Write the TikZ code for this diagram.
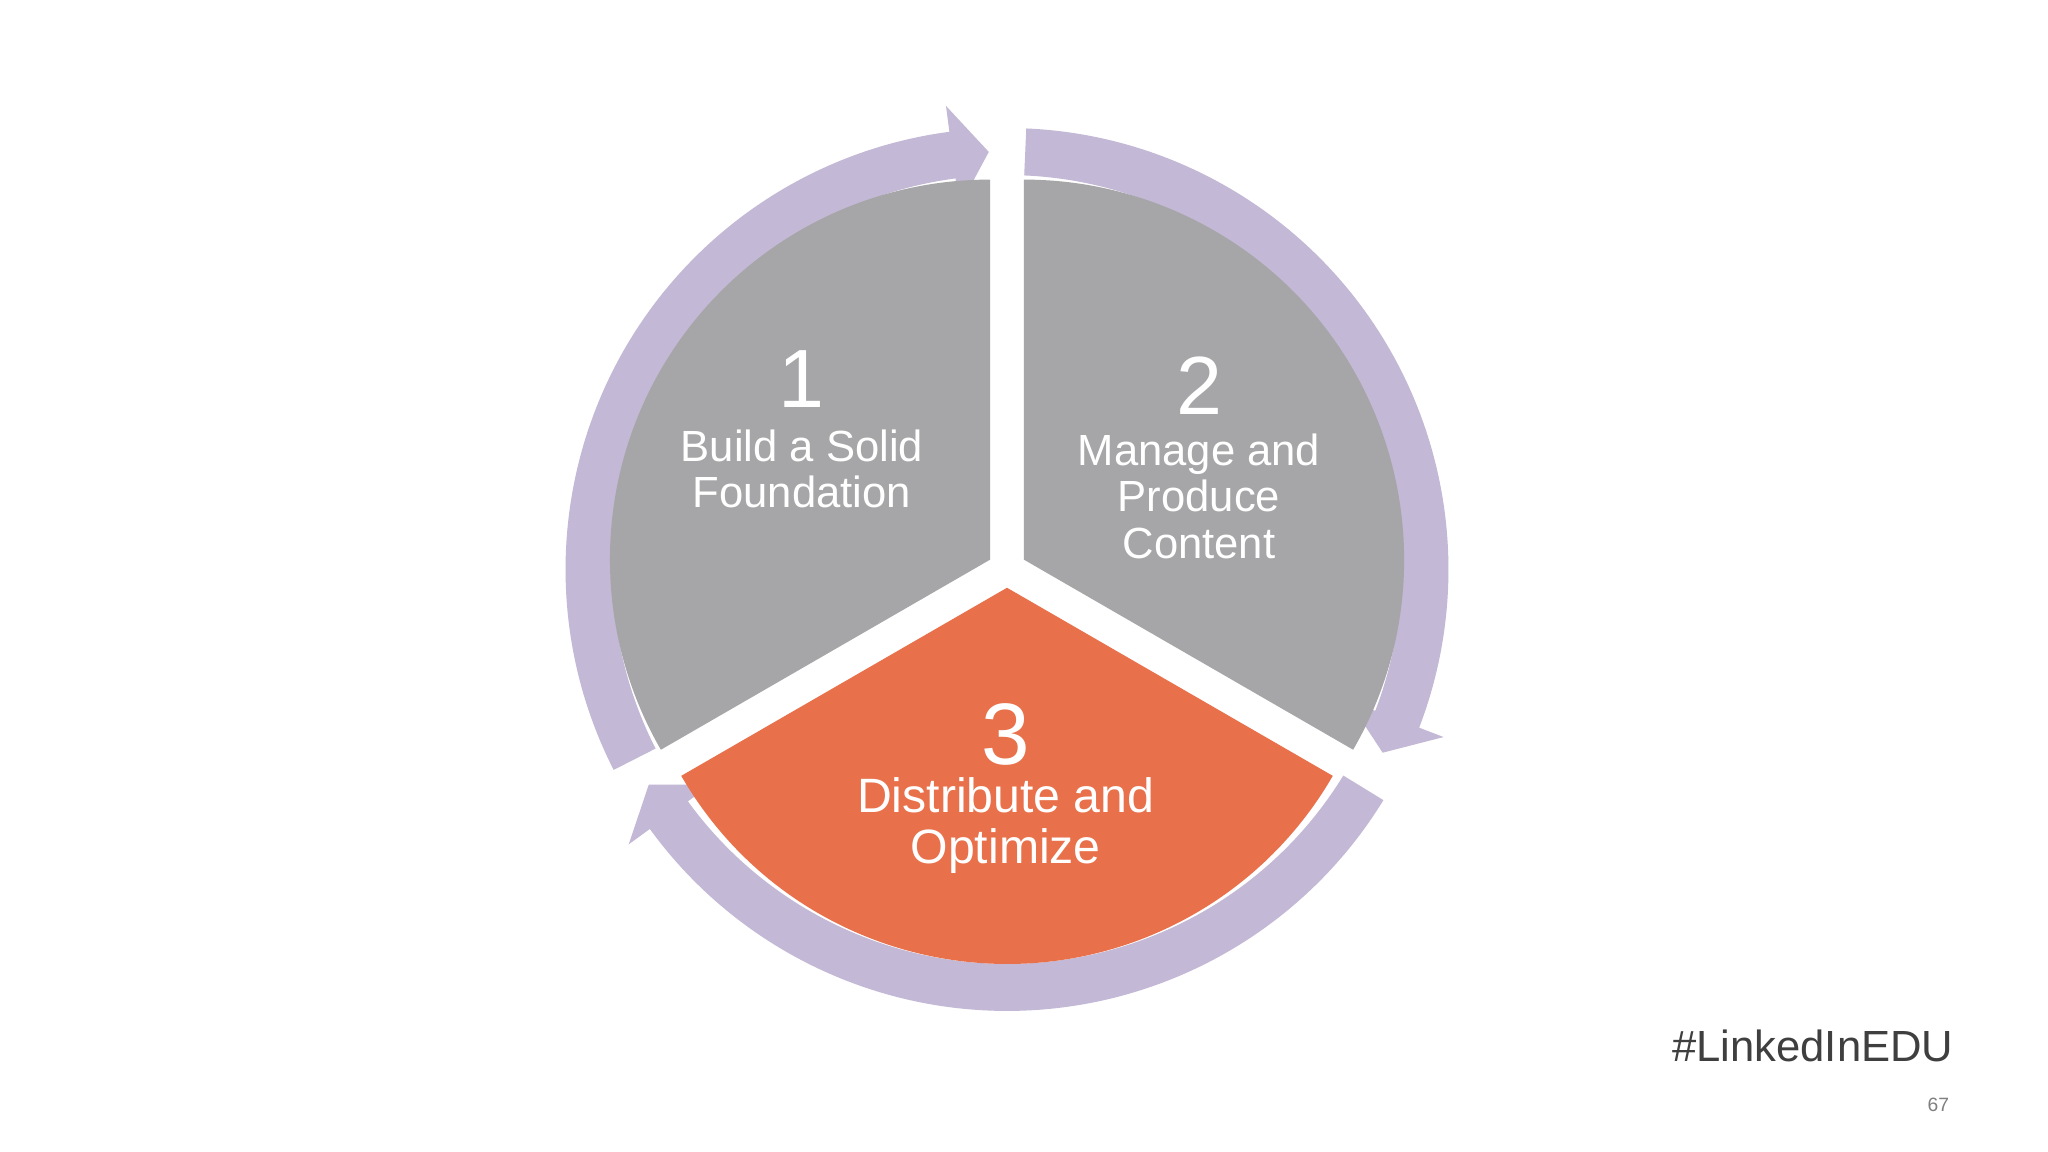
\documentclass[tikz,border=0pt]{standalone}
\usepackage{fontspec}
\setmainfont{Liberation Sans}
\definecolor{ringc}{HTML}{C3B8D5}
\definecolor{secg}{HTML}{A6A5A7}
\definecolor{seco}{HTML}{E8704A}
\definecolor{tagc}{HTML}{3F3F3F}
\begin{document}
\begin{tikzpicture}[x=0.1mm,y=0.1mm,
  ringarrow/.style={fill=ringc},
  lbl/.style={text=white,align=center,font=\fontsize{9.5}{10.2}\selectfont},
  lblb/.style={text=white,align=center,font=\fontsize{10.5}{11}\selectfont},
  num/.style={text=white,font=\fontsize{18}{18}\selectfont},
  numb/.style={text=white,font=\fontsize{19}{19}\selectfont}]
\fill[white] (-771,-446) rectangle (797,436);
\useasboundingbox (-771,-446) rectangle (797,436);
% ring arrows (clockwise)
\foreach \s/\e in {207/92.5, 87.5/-26, 328.5/211}{
  \pgfmathsetmacro{\b}{\e+5}
  \fill[ringarrow] (\s:338) arc[start angle=\s,end angle=\b,radius=338]
    -- (\b:358) -- (\e:320) -- (\b:280) -- (\b:302)
    arc[start angle=\b,end angle=\s,radius=302] -- cycle;
}
% sectors
\begin{scope}[shift={(150:15)}]
  \fill[secg] (0,0) -- (90:291) arc[start angle=90,end angle=210,radius=291] -- cycle;
\end{scope}
\begin{scope}[shift={(30:15)}]
  \fill[secg] (0,0) -- (-30:291) arc[start angle=-30,end angle=90,radius=291] -- cycle;
\end{scope}
\begin{scope}[shift={(270:14)}]
  \fill[seco] (0,0) -- (210:288) arc[start angle=210,end angle=330,radius=288] -- cycle;
\end{scope}
% labels
\node[num] (n1) at (-157,146) {1};
\node[lbl] (t1) at (-157,77) {Build a Solid\\Foundation};
\node[num] (n2) at (147,141) {2};
\node[lbl] (t2) at (147,56) {Manage and\\Produce\\Content};
\node[numb] (n3) at (-1,-126) {3};
\node[lblb] (t3) at (-1,-196) {Distribute and\\Optimize};
\node[anchor=east,text=tagc,font=\fontsize{9.5}{10}\selectfont] (tag) at (737,-365) {\#LinkedInEDU};
\node[text=gray,font=\fontsize{4.2}{5}\selectfont] (pg) at (713,-410) {67};
\end{tikzpicture}
\end{document}
